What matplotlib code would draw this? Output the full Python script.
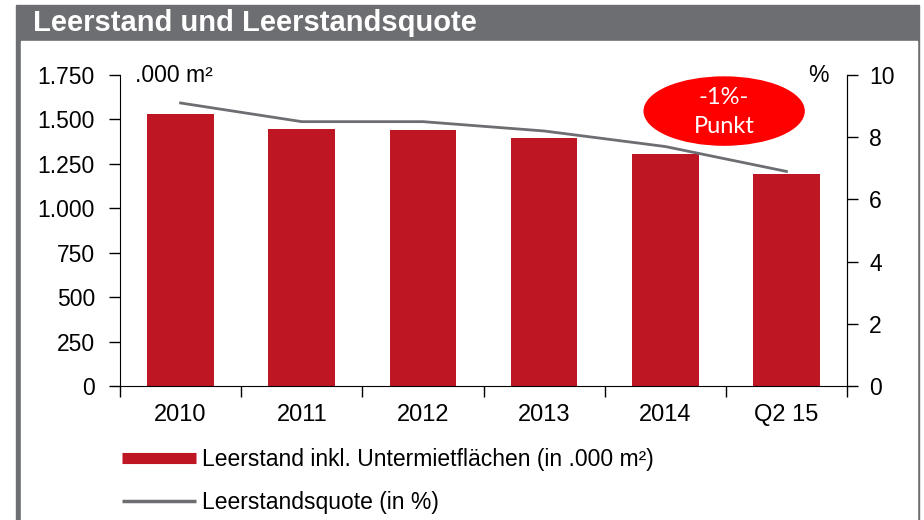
import matplotlib
matplotlib.use('Agg')
import matplotlib.pyplot as plt
from matplotlib.patches import Rectangle, Ellipse
from matplotlib.lines import Line2D
from matplotlib.ticker import FuncFormatter, FixedLocator

# DATA
categories = ['2010', '2011', '2012', '2013', '2014', 'Q2 15']
leerstand = [1530, 1446, 1440, 1395, 1305, 1193]      # .000 m²
quote = [9.1, 8.5, 8.5, 8.2, 7.7, 6.9]                # %
left_ticks = [0, 250, 500, 750, 1000, 1250, 1500, 1750]
right_ticks = [0, 2, 4, 6, 8, 10]

RED = '#be1622'
GRAY = '#6d6e71'
FS = 16.5

plt.rcParams['font.family'] = ['Liberation Sans', 'DejaVu Sans']

fig = plt.figure(figsize=(9.24, 5.20), dpi=100)
W, H = 924, 520

# frame + title bar
fig.patches.append(Rectangle((16 / W, 0), (919 - 16) / W, 1 - 5 / H,
                             transform=fig.transFigure, color=GRAY, zorder=-2))
fig.patches.append(Rectangle((21 / W, 0), (917 - 21) / W, 1 - 41 / H,
                             transform=fig.transFigure, color='white', zorder=-1))
fig.text(33 / W, 1 - 23 / H, 'Leerstand und Leerstandsquote', color='white',
         fontsize=21, fontweight='bold', va='center', ha='left')

ax = fig.add_axes([120 / W, 1 - 386 / H, (847 - 120) / W, (386 - 75) / H])
ax.set_facecolor('none')
x = list(range(len(categories)))
ax.bar(x, leerstand, width=0.55, color=RED, zorder=2)
ax.set_xlim(-0.5, len(categories) - 0.5)
ax.set_ylim(0, 1750)
ax.set_yticks(left_ticks)
ax.yaxis.set_major_formatter(FuncFormatter(lambda v, p: f'{v:,.0f}'.replace(',', '.')))
ax.tick_params(axis='y', direction='out', length=8, width=1, labelsize=FS, pad=10)

# category ticks between bars, labels centered
ax.xaxis.set_major_locator(FixedLocator([i - 0.5 for i in range(len(categories) + 1)]))
ax.xaxis.set_minor_locator(FixedLocator(x))
ax.set_xticklabels([])
ax.set_xticklabels(categories, minor=True)
ax.tick_params(axis='x', which='major', direction='out', length=8, width=1)
ax.tick_params(axis='x', which='minor', length=0, labelsize=FS + 0.5, pad=13)
ax.spines['top'].set_visible(False)

ax2 = ax.twinx()
ax2.plot(x, quote, color=GRAY, lw=2, zorder=3)
ax2.set_ylim(0, 10)
ax2.set_yticks(right_ticks)
ax2.tick_params(axis='y', direction='out', length=8, width=1, labelsize=FS, pad=8)
ax2.spines['top'].set_visible(False)
ax2.spines['left'].set_visible(False)
ax2.spines['bottom'].set_visible(False)

# unit labels
ax.text(0.02, 1.0, '.000 m²', transform=ax.transAxes, fontsize=FS,
        ha='left', va='center')
ax.text(0.975, 1.0, '%', transform=ax.transAxes, fontsize=FS,
        ha='right', va='center')

# red callout
ax2.add_patch(Ellipse((0.831, 0.884), 0.22, 0.219, transform=ax.transAxes,
                      color='#ff0000', zorder=5, clip_on=False))
ax2.text(0.831, 0.928, '-1%-', transform=ax.transAxes, color='white',
         fontsize=17, ha='center', va='center', zorder=6, family=['Lato', 'DejaVu Sans'])
ax2.text(0.831, 0.835, 'Punkt', transform=ax.transAxes, color='white',
         fontsize=17, ha='center', va='center', zorder=6, family=['Lato', 'DejaVu Sans'])

# legend
handles = [Line2D([], [], color=RED, lw=8, solid_capstyle='butt'),
           Line2D([], [], color=GRAY, lw=2.5, solid_capstyle='butt')]
labels = ['Leerstand inkl. Untermietflächen (in .000 m²)', 'Leerstandsquote (in %)']
fig.legend(handles, labels, loc='center left', bbox_to_anchor=(122 / W, 1 - 481 / H),
           frameon=False, fontsize=FS, handlelength=3.25, handletextpad=0.25,
           labelspacing=0.85, borderpad=0, borderaxespad=0)

fig.savefig('out.png', dpi=100)
